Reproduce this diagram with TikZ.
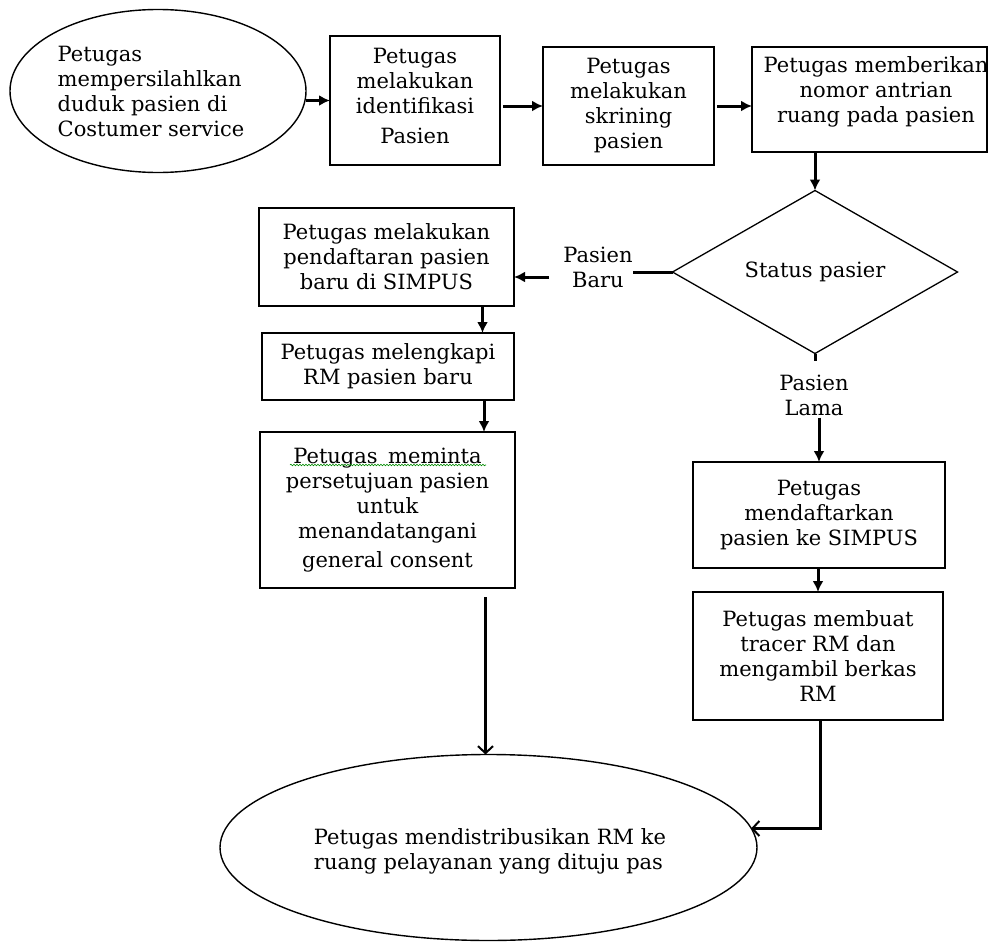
\documentclass[tikz,border=0pt]{standalone}
\usepackage{fontspec}
\setmainfont{DejaVu Serif}
\usetikzlibrary{shapes.geometric,arrows.meta,decorations.pathmorphing}
\begin{document}
\begin{tikzpicture}[x=1pt,y=-1pt,
  every node/.style={font=\fontsize{21}{25}\selectfont},
  box/.style={draw, line width=1.8pt, inner sep=0pt, outer sep=0pt, align=center},
  ell/.style={draw, ellipse, line width=1.4pt, inner sep=0pt, outer sep=0pt},
  dia/.style={draw, diamond, line width=1.3pt, inner sep=0pt, outer sep=0pt},
  arr/.style={line width=3pt, -{Latex[length=11pt,width=11pt]}},
  arrb/.style={line width=3pt, -{Straight Barb[length=7pt,width=15pt,line width=2pt]}},
  thk/.style={line width=3pt},
  lbl/.style={align=center, inner sep=0pt}]
\useasboundingbox (0,0) rectangle (989,945);
\fill[white] (0,0) rectangle (989,945);
% top row
\node[ell, minimum width=296, minimum height=163] (e1) at (158,91) {};
\node[align=left, inner sep=0pt] (t1) at (151,91) {Petugas\\mempersilahlkan\\duduk pasien di\\Costumer service};
\node[box, minimum width=170, minimum height=129] (b2) at (415,100.5) {};
\node[lbl] (t2a) at (415,96) {Petugas\\melakukan\\identifikasi\\[5pt]Pasien};
\node[box, minimum width=171, minimum height=118] (b3) at (628.5,106) {Petugas\\melakukan\\skrining\\pasien};
\node[box, minimum width=235, minimum height=105] (b4) at (869.5,99.5) {};
\begin{scope}
\clip (b4.south west) rectangle (b4.north east);
\node[lbl] (t4) at (876,92) {Petugas memberikan\\nomor antrian\\ruang pada pasien};
\end{scope}
% decision
\node[dia, minimum width=285, minimum height=163] (d) at (815,272) {Status pasier};
% left branch
\node[box, minimum width=255, minimum height=98] (b5) at (386.5,257) {Petugas melakukan\\pendaftaran pasien\\baru di SIMPUS};
\node[box, minimum width=252, minimum height=67] (b6) at (388,366.5) {Petugas melengkapi\\RM pasien baru};
\node[box, minimum width=255, minimum height=156] (b7) at (387.5,510) {};
\node[lbl] (t7) at (387.5,510) {Petugas\enspace meminta\\persetujuan pasien\\untuk\\menandatangani\\[4pt]general consent};
\node[lbl] (lb) at (598,267) {Pasien\\Baru};
% right branch
\node[lbl] (ll) at (814,395) {Pasien\\Lama};
\node[box, minimum width=252, minimum height=106] (b8) at (819,515) {Petugas\\mendaftarkan\\pasien ke SIMPUS};
\node[box, minimum width=250, minimum height=128] (b9) at (818,656) {Petugas membuat\\tracer RM dan\\mengambil berkas\\RM};
% final
\node[ell, minimum width=537, minimum height=186] (e2) at (488.5,847.5) {};
\node[align=left, inner sep=0pt] (t2) at (490,851) {Petugas mendistribusikan RM ke\\ruang pelayanan yang dituju pas};
% connectors
\draw[arr] (e1.east |- b2.west) -- (b2.west);
\draw[arr] ([xshift=3pt]b2.east |- b3.west) -- (b3.west);
\draw[arr] ([xshift=3pt]b3.east) -- (b3.east -| b4.west);
\draw[arr] (d.north |- b4.south) -- (d.north);
\draw[thk] (d.west) -- (d.west -| lb.east);
\coordinate (ba) at ([xshift=-14pt,yshift=-10pt]lb.west);
\draw[arr] (ba) -- (ba -| b5.east);
\draw[arr] ([xshift=96pt]b5.south) -- ([xshift=96pt]b5.south |- b6.north);
\draw[arr] ([xshift=96pt]b6.south) -- ([xshift=96pt]b6.south |- b7.north);
\draw[arrb] ([xshift=-3pt,yshift=-9pt]e2.north |- b7.south) -- ([xshift=-3pt]e2.north);
\draw[thk] (d.south) -- ([yshift=-7pt]d.south);
\draw[arr] ([yshift=-2pt]ll.south -| b8.north) -- (b8.north);
\draw[arr] (b8.south -| b9.north) -- (b9.north);
\draw[arrb] ([xshift=2pt]b9.south) |- ([xshift=-6pt,yshift=19pt]e2.east);
% spell-check squiggle
\draw[green!55!black, line width=0.6pt, decorate, decoration={snake, amplitude=0.8pt, segment length=3pt}] (290,465) -- (486,465);
\end{tikzpicture}
\end{document}
